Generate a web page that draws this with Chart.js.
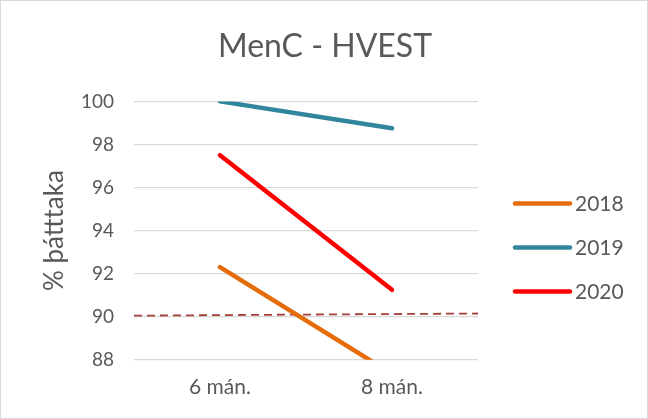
<!DOCTYPE html>
<html>
<head>
<meta charset="utf-8">
<script src="https://cdn.jsdelivr.net/npm/chart.js@4"></script>
<style>
  body { margin: 0; background: #fff; }
  #wrap { width: 648px; height: 419px; }
</style>
</head>
<body>
<div id="wrap"><canvas id="chart" width="648" height="419"></canvas></div>
<script>
const categories = ["6 mán.", "8 mán."];
const years = ["2018", "2019", "2020"];
const values2018 = [92.3, 87.35];
const values2019 = [100, 98.75];
const values2020 = [97.5, 91.25];
const targetLine = [90.05, 90.15];
const yTicks = [88, 90, 92, 94, 96, 98, 100];
const colors = ["#e46c0a", "#31859c", "#ff0000"];

const fontFamily = "Lato, 'Open Sans', sans-serif";
const textColor = "#595959";

const frame = {
    id: "frame",
    beforeDraw(chart) {
        const c = chart.ctx;
        c.save();
        c.fillStyle = "#fff";
        c.fillRect(0, 0, chart.width, chart.height);
        c.strokeStyle = "#d9d9d9";
        c.lineWidth = 1;
        c.strokeRect(0.5, 0.5, chart.width - 1, chart.height - 1);
        c.restore();
    }
};

// legend drawn by hand, to the right of the plot
const sideLegend = {
    id: "sideLegend",
    afterDraw(chart) {
        const c = chart.ctx;
        const area = chart.chartArea;
        const x0 = area.right + 37;
        c.save();
        c.font = "21px " + fontFamily;
        c.textBaseline = "middle";
        chart.data.datasets.forEach((ds, i) => {
            if (ds.label === "target") return;
            const y = area.top + 102 + i * 44;
            c.strokeStyle = ds.borderColor;
            c.lineWidth = 4.5;
            c.lineCap = "round";
            c.beginPath();
            c.moveTo(x0, y);
            c.lineTo(x0 + 55, y);
            c.stroke();
            c.fillStyle = textColor;
            c.fillText(ds.label, x0 + 60, y + 1);
        });
        c.restore();
    }
};

const seriesValues = [values2018, values2019, values2020];

const datasets = years.map((y, i) => ({
    label: y,
    data: seriesValues[i],
    borderColor: colors[i],
    backgroundColor: colors[i],
    borderWidth: 4.5,
    borderCapStyle: "round",
    pointRadius: 0,
    tension: 0
}));

datasets.push({
    label: "target",
    data: [
        { x: 0, y: targetLine[0] },
        { x: 1, y: targetLine[1] }
    ],
    xAxisID: "x2",
    borderColor: "#a5403c",
    borderWidth: 1.8,
    borderDash: [8, 5],
    pointRadius: 0,
    clip: false
});

new Chart(
    document.getElementById("chart").getContext("2d"),
    {
        type: "line",
        data: {
            labels: categories,
            datasets: datasets
        },
        options: {
            responsive: false,
            animation: false,
            layout: {
                padding: { left: 2, right: 0, top: 27, bottom: 4 }
            },
            plugins: {
                title: {
                    display: true,
                    text: "MenC - HVEST",
                    color: textColor,
                    font: { family: fontFamily, size: 32, weight: "normal" },
                    padding: { top: 0, bottom: 36 }
                },
                legend: { display: false },
                tooltip: { enabled: false }
            },
            scales: {
                x: {
                    offset: true,
                    grid: { display: false, drawTicks: false },
                    border: { display: false },
                    ticks: {
                        color: textColor,
                        font: { family: fontFamily, size: 21 },
                        padding: 15
                    }
                },
                x2: {
                    type: "linear",
                    display: false,
                    min: 0,
                    max: 1
                },
                y: {
                    min: 88,
                    max: 100,
                    afterBuildTicks: scale => {
                        scale.ticks = yTicks.map(v => ({ value: v }));
                    },
                    afterFit: scale => {
                        scale.width = 132;
                    },
                    grid: { color: "#d9d9d9", lineWidth: 1.3, drawTicks: false },
                    border: { display: false },
                    ticks: {
                        color: textColor,
                        font: { family: fontFamily, size: 19 },
                        padding: 20
                    },
                    title: {
                        display: true,
                        text: "% þátttaka",
                        color: textColor,
                        font: { family: fontFamily, size: 26 },
                        padding: { top: 37, bottom: 4 }
                    }
                },
                // empty axis that only reserves room for the legend
                yLegend: {
                    position: "right",
                    display: true,
                    grid: { display: false, drawTicks: false },
                    border: { display: false },
                    ticks: { display: false },
                    afterFit: scale => {
                        scale.width = 170;
                    }
                }
            }
        },
        plugins: [frame, sideLegend]
    }
);
</script>
</body>
</html>
